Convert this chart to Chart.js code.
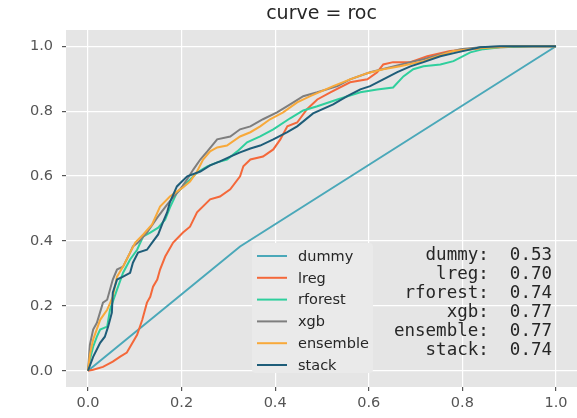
<!DOCTYPE html>
<html>
<head>
<meta charset="utf-8">
<script src="https://cdn.jsdelivr.net/npm/chart.js@4.4.0/dist/chart.umd.min.js"></script>
<style>
  body { margin: 0; background: #fff; }
</style>
</head>
<body>
<canvas id="rocChart" width="577" height="418"></canvas>
<script>
const titleText = 'curve = roc';
const models = ['dummy', 'lreg', 'rforest', 'xgb', 'ensemble', 'stack'];
const aucScores = ['0.53', '0.70', '0.74', '0.77', '0.77', '0.74'];
const lineColors = ['#4aa8b9', '#f4683a', '#2fcf9d', '#7e7e7e', '#f8a93a', '#1e5d79'];
const xTicks = [0, 0.2, 0.4, 0.6, 0.8, 1.0];
const yTicks = [0, 0.2, 0.4, 0.6, 0.8, 1.0];

// false positive rate / true positive rate per model
const dummyFpr = [0, 0.325, 1];
const dummyTpr = [0, 0.383, 1];

const lregFpr = [0, 0.011, 0.032, 0.053, 0.068, 0.083, 0.105, 0.116, 0.126, 0.133, 0.139, 0.148, 0.154, 0.165, 0.182, 0.203, 0.218, 0.233, 0.261, 0.282, 0.304, 0.325, 0.332, 0.347, 0.374, 0.396, 0.411, 0.426, 0.447, 0.468, 0.490, 0.518, 0.560, 0.597, 0.618, 0.631, 0.652, 0.689, 0.725, 0.774, 0.817, 0.881, 0.945, 1.0];
const lregTpr = [0, 0.003, 0.012, 0.028, 0.043, 0.056, 0.111, 0.157, 0.210, 0.228, 0.259, 0.281, 0.312, 0.352, 0.395, 0.426, 0.444, 0.488, 0.528, 0.537, 0.559, 0.599, 0.630, 0.651, 0.660, 0.682, 0.713, 0.753, 0.765, 0.806, 0.836, 0.858, 0.889, 0.898, 0.920, 0.944, 0.951, 0.951, 0.969, 0.985, 0.991, 0.997, 1.0, 1.0];

const rforestFpr = [0, 0.004, 0.011, 0.019, 0.026, 0.041, 0.047, 0.062, 0.075, 0.090, 0.105, 0.118, 0.133, 0.150, 0.165, 0.175, 0.190, 0.212, 0.233, 0.255, 0.276, 0.297, 0.319, 0.340, 0.368, 0.396, 0.432, 0.460, 0.490, 0.533, 0.582, 0.618, 0.652, 0.674, 0.695, 0.717, 0.753, 0.781, 0.817, 0.845, 0.881, 0.952, 1.0];
const rforestTpr = [0, 0.034, 0.074, 0.105, 0.127, 0.136, 0.188, 0.250, 0.302, 0.343, 0.373, 0.414, 0.426, 0.441, 0.466, 0.503, 0.549, 0.580, 0.611, 0.630, 0.642, 0.651, 0.676, 0.704, 0.722, 0.744, 0.778, 0.802, 0.815, 0.836, 0.858, 0.867, 0.873, 0.907, 0.929, 0.938, 0.944, 0.954, 0.981, 0.991, 0.997, 1.0, 1.0];

const xgbFpr = [0, 0.004, 0.011, 0.019, 0.032, 0.041, 0.053, 0.062, 0.075, 0.090, 0.096, 0.107, 0.126, 0.148, 0.169, 0.180, 0.197, 0.212, 0.225, 0.240, 0.255, 0.276, 0.304, 0.325, 0.347, 0.374, 0.404, 0.432, 0.460, 0.490, 0.533, 0.560, 0.603, 0.646, 0.689, 0.717, 0.753, 0.796, 0.838, 0.903, 1.0];
const xgbTpr = [0, 0.080, 0.127, 0.148, 0.210, 0.219, 0.281, 0.312, 0.321, 0.364, 0.383, 0.395, 0.426, 0.472, 0.512, 0.531, 0.559, 0.590, 0.620, 0.651, 0.676, 0.713, 0.722, 0.744, 0.753, 0.775, 0.796, 0.821, 0.846, 0.858, 0.877, 0.898, 0.920, 0.935, 0.951, 0.960, 0.975, 0.991, 0.997, 1.0, 1.0];

const ensembleFpr = [0, 0.004, 0.011, 0.026, 0.041, 0.053, 0.062, 0.075, 0.090, 0.101, 0.118, 0.137, 0.154, 0.175, 0.203, 0.218, 0.233, 0.246, 0.261, 0.276, 0.297, 0.325, 0.347, 0.368, 0.389, 0.417, 0.447, 0.475, 0.524, 0.560, 0.597, 0.631, 0.667, 0.717, 0.753, 0.781, 0.838, 0.909, 1.0];
const ensembleTpr = [0, 0.049, 0.096, 0.157, 0.188, 0.228, 0.290, 0.321, 0.364, 0.395, 0.420, 0.451, 0.506, 0.537, 0.565, 0.583, 0.614, 0.651, 0.676, 0.688, 0.694, 0.722, 0.735, 0.753, 0.775, 0.796, 0.827, 0.846, 0.877, 0.898, 0.917, 0.929, 0.938, 0.954, 0.972, 0.985, 0.994, 1.0, 1.0];

const stackFpr = [0, 0.011, 0.026, 0.036, 0.043, 0.051, 0.053, 0.062, 0.075, 0.090, 0.096, 0.107, 0.126, 0.137, 0.150, 0.160, 0.169, 0.175, 0.190, 0.212, 0.240, 0.261, 0.282, 0.304, 0.325, 0.347, 0.368, 0.396, 0.426, 0.447, 0.481, 0.524, 0.554, 0.582, 0.603, 0.631, 0.661, 0.689, 0.717, 0.753, 0.789, 0.838, 0.881, 1.0];
const stackTpr = [0, 0.043, 0.086, 0.105, 0.136, 0.179, 0.241, 0.281, 0.290, 0.302, 0.333, 0.364, 0.373, 0.395, 0.420, 0.457, 0.488, 0.519, 0.568, 0.599, 0.614, 0.633, 0.645, 0.660, 0.673, 0.685, 0.694, 0.713, 0.735, 0.753, 0.793, 0.821, 0.846, 0.867, 0.877, 0.898, 0.920, 0.938, 0.951, 0.969, 0.981, 0.997, 1.0, 1.0];

const curves = [
  [dummyFpr, dummyTpr],
  [lregFpr, lregTpr],
  [rforestFpr, rforestTpr],
  [xgbFpr, xgbTpr],
  [ensembleFpr, ensembleTpr],
  [stackFpr, stackTpr],
];

const datasets = curves.map((c, i) => ({
  label: models[i],
  data: c[0].map((x, j) => ({ x: x, y: c[1][j] })),
  borderColor: lineColors[i],
  borderWidth: 2,
  pointRadius: 0,
  tension: 0,
  fill: false,
  order: models.length - i, // later models drawn on top, like matplotlib
}));

// grey panel, title, legend box and the AUC text block
const decorations = {
  id: 'decorations',
  beforeDraw(chart) {
    const { ctx, chartArea: a } = chart;
    ctx.save();
    ctx.fillStyle = '#e5e5e5';
    ctx.fillRect(a.left, a.top, a.right - a.left, a.bottom - a.top);
    ctx.restore();
  },
  afterDraw(chart) {
    const { ctx, chartArea: a } = chart;
    ctx.save();

    ctx.fillStyle = '#262626';
    ctx.font = '19px "DejaVu Sans"';
    ctx.textAlign = 'center';
    ctx.textBaseline = 'middle';
    ctx.fillText(titleText, (a.left + a.right) / 2, 14);

    // legend
    const lx = 252, ly = 243, lw = 121, lh = 130;
    ctx.fillStyle = '#eaeaea';
    ctx.beginPath();
    ctx.roundRect(lx, ly, lw, lh, 4);
    ctx.fill();
    ctx.font = '14.5px "DejaVu Sans"';
    ctx.textAlign = 'left';
    models.forEach((m, i) => {
      const y = 256 + i * 21.8;
      ctx.strokeStyle = lineColors[i];
      ctx.lineWidth = 2;
      ctx.beginPath();
      ctx.moveTo(257, y);
      ctx.lineTo(287, y);
      ctx.stroke();
      ctx.fillStyle = '#262626';
      ctx.fillText(m, 298, y + 1);
    });

    // auc scores
    ctx.font = '17.5px "DejaVu Sans Mono"';
    ctx.textAlign = 'right';
    ctx.fillStyle = '#262626';
    models.forEach((m, i) => {
      ctx.fillText(m + ':  ' + aucScores[i], 552, 255 + i * 19);
    });
    ctx.restore();
  },
};

const tickFont = { family: 'DejaVu Sans', size: 14.5 };

new Chart(document.getElementById('rocChart'), {
  type: 'line',
  data: { datasets: datasets },
  options: {
    responsive: false,
    animation: false,
    layout: { padding: { top: 30, left: 0, right: 0, bottom: 0 } },
    plugins: {
      legend: { display: false },
      tooltip: { enabled: false },
      title: { display: false },
    },
    scales: {
      x: {
        type: 'linear',
        min: -0.047,
        max: 1.045,
        afterBuildTicks: (s) => { s.ticks = xTicks.map((v) => ({ value: v })); },
        afterFit: (s) => { s.height = 31; },
        ticks: {
          color: '#555555',
          font: tickFont,
          padding: 4,
          maxRotation: 0,
          callback: (v) => v.toFixed(1),
        },
        grid: { color: '#ffffff', lineWidth: 1.2, tickColor: '#555555', tickLength: 4 },
        border: { display: false },
      },
      y: {
        type: 'linear',
        min: -0.05,
        max: 1.05,
        afterBuildTicks: (s) => { s.ticks = yTicks.map((v) => ({ value: v })); },
        afterFit: (s) => { s.width = 66; },
        ticks: {
          color: '#555555',
          font: tickFont,
          padding: 9,
          callback: (v) => v.toFixed(1),
        },
        grid: { color: '#ffffff', lineWidth: 1.2, tickColor: '#555555', tickLength: 4 },
        border: { display: false },
      },
    },
  },
  plugins: [decorations],
});
</script>
</body>
</html>
